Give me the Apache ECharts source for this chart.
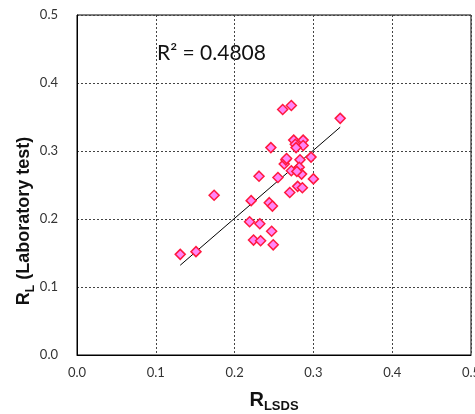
<!DOCTYPE html>
<html>
<head>
<meta charset="utf-8">
<script src="https://cdn.jsdelivr.net/npm/echarts@6/dist/echarts.min.js"></script>
<style>
  html, body { margin: 0; padding: 0; background: #fff; }
  #main { width: 475px; height: 414px; }
</style>
</head>
<body>
<div id="main"></div>
<script>
// R_LSDS (x) vs R_L laboratory test (y)
var rlsds = [0.131, 0.151, 0.174, 0.221, 0.231, 0.246, 0.261, 0.272, 0.334,
             0.219, 0.232, 0.224, 0.233, 0.247, 0.249, 0.244, 0.248, 0.255,
             0.270, 0.280, 0.286, 0.300, 0.297, 0.263, 0.265, 0.266, 0.272,
             0.283, 0.282, 0.285, 0.279, 0.275, 0.277, 0.287, 0.287, 0.278];
var rl = [0.148, 0.152, 0.235, 0.227, 0.263, 0.305, 0.361, 0.367, 0.348,
          0.196, 0.193, 0.169, 0.168, 0.182, 0.162, 0.224, 0.219, 0.261,
          0.239, 0.248, 0.246, 0.259, 0.291, 0.281, 0.287, 0.289, 0.271,
          0.287, 0.276, 0.266, 0.270, 0.316, 0.310, 0.316, 0.308, 0.305];

// linear trend line ends
var trendX = [0.131, 0.334];
var trendY = [0.132, 0.335];

var xTicks = ['0.0', '0.1', '0.2', '0.3', '0.4', '0.5'];
var yTicks = ['0.0', '0.1', '0.2', '0.3', '0.4', '0.5'];
var r2Label = 'R\u00B2 = 0.4808';

var points = [];
for (var i = 0; i < rlsds.length; i++) {
    points.push([rlsds[i], rl[i]]);
}
var trend = [];
for (var j = 0; j < trendX.length; j++) {
    trend.push([trendX[j], trendY[j]]);
}

var myChart = echarts.init(document.getElementById('main'));
var option = {
    animation: false,
    grid: {
        left: 77,
        right: 4,
        top: 15,
        bottom: 59,
        outerBoundsMode: 'none',
        containLabel: false,
        show: true,
        borderColor: '#000',
        borderWidth: 1
    },
    xAxis: {
        type: 'value',
        min: 0,
        max: 0.5,
        interval: 0.1,
        name: '{a|R}{b|LSDS}',
        nameLocation: 'middle',
        nameGap: 33,
        nameTextStyle: {
            rich: {
                a: { fontSize: 20, fontWeight: 'bold', fontFamily: 'Liberation Sans', color: '#111', lineHeight: 22, verticalAlign: 'bottom' },
                b: { fontSize: 13, fontWeight: 'bold', fontFamily: 'Liberation Sans', color: '#111', lineHeight: 22, verticalAlign: 'bottom', padding: [0, 0, -3, 0] }
            }
        },
        axisLine: { lineStyle: { color: '#000', width: 1 } },
        axisTick: { show: false },
        axisLabel: {
            margin: 11,
            fontSize: 13,
            fontFamily: 'Lato',
            color: '#333',
            formatter: function (v) { return xTicks[Math.round(v * 10)]; }
        },
        splitLine: { show: true, lineStyle: { color: '#444', type: [2, 2], width: 1 } }
    },
    yAxis: {
        type: 'value',
        min: 0,
        max: 0.5,
        interval: 0.1,
        axisLine: { show: true, lineStyle: { color: '#000', width: 1 } },
        axisTick: { show: false },
        axisLabel: {
            margin: 19,
            fontSize: 13,
            fontFamily: 'Lato',
            color: '#333',
            formatter: function (v) { return yTicks[Math.round(v * 10)]; }
        },
        splitLine: { show: true, lineStyle: { color: '#444', type: [2, 2], width: 1 } }
    },
    graphic: [
        {
            type: 'text',
            x: 22,
            y: 221,
            rotation: Math.PI / 2,
            style: {
                text: '{a|R}{b|L}{a| (Laboratory test)}',
                align: 'center',
                verticalAlign: 'middle',
                rich: {
                    a: { fontSize: 18, fontWeight: 'bold', fontFamily: 'Liberation Sans', fill: '#111', lineHeight: 22, verticalAlign: 'bottom' },
                    b: { fontSize: 12, fontWeight: 'bold', fontFamily: 'Liberation Sans', fill: '#111', lineHeight: 22, verticalAlign: 'bottom', padding: [0, 0, -4, 0] }
                }
            }
        },
        {
            type: 'text',
            x: 157,
            y: 53,
            style: {
                text: r2Label,
                fontSize: 21,
                fontFamily: 'Lato',
                fill: '#111',
                align: 'left',
                verticalAlign: 'middle'
            }
        }
    ],
    series: [
        {
            name: 'trend',
            type: 'line',
            data: trend,
            symbol: 'none',
            lineStyle: { color: '#000', width: 1 },
            z: 1
        },
        {
            name: 'data',
            type: 'scatter',
            data: points,
            symbol: 'diamond',
            symbolSize: 10,
            itemStyle: {
                color: '#ff86f8',
                borderColor: '#ff1a40',
                borderWidth: 1.5,
                opacity: 1
            },
            z: 2
        }
    ]
};
myChart.setOption(option);
</script>
</body>
</html>
